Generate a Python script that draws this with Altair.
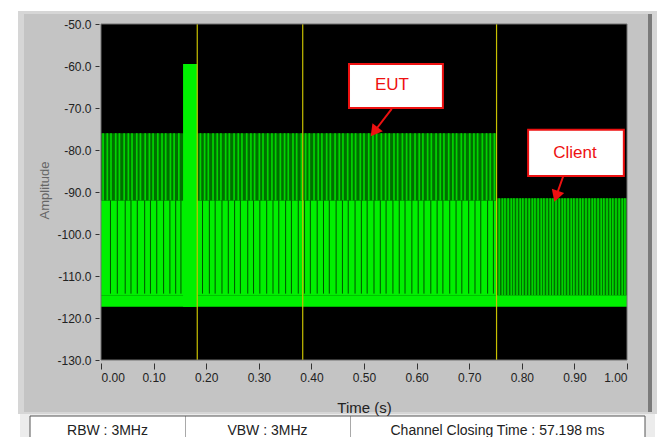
import altair as alt
import pandas as pd

# ---------------- data ----------------
x_ticks = [0.0, 0.1, 0.2, 0.3, 0.4, 0.5, 0.6, 0.7, 0.8, 0.9, 1.0]
y_ticks = [-130, -120, -110, -100, -90, -80, -70, -60, -50]

cursor_times = [0.183, 0.3835, 0.752]

noise_floor = -117.3
noise_top = -114.6
eut_low_top = -92.0
eut_high_top = -76.0
client_top = -91.5
eut_end = 0.752

burst_start = 0.156
burst_end = 0.183
burst_top = -59.5

eut_pulses = [0.004, 0.012, 0.019, 0.028, 0.035, 0.044, 0.052, 0.059, 0.068, 0.075,
              0.084, 0.092, 0.099, 0.108, 0.116, 0.123, 0.132, 0.139, 0.148, 0.189,
              0.197, 0.204, 0.213, 0.221, 0.228, 0.237, 0.244, 0.253, 0.261, 0.268,
              0.277, 0.285, 0.292, 0.301, 0.308, 0.317, 0.325, 0.332, 0.341, 0.349,
              0.356, 0.365, 0.372, 0.381, 0.389, 0.396, 0.405, 0.413, 0.420, 0.429,
              0.436, 0.445, 0.453, 0.460, 0.469, 0.477, 0.484, 0.493, 0.500, 0.509,
              0.517, 0.524, 0.533, 0.541, 0.548, 0.557, 0.564, 0.573, 0.581, 0.588,
              0.597, 0.605, 0.612, 0.621, 0.628, 0.637, 0.645, 0.652, 0.661, 0.669,
              0.676, 0.685, 0.692, 0.701, 0.709, 0.716, 0.725, 0.733, 0.740, 0.748]

eut_gaps = [0.018, 0.031, 0.046, 0.057, 0.069, 0.083, 0.094, 0.106, 0.119, 0.131,
            0.142, 0.152, 0.193, 0.206, 0.217, 0.230, 0.242, 0.254, 0.265, 0.279,
            0.290, 0.302, 0.315, 0.327, 0.338, 0.351, 0.362, 0.375, 0.387, 0.398,
            0.411, 0.423, 0.434, 0.447, 0.459, 0.470, 0.483, 0.495, 0.506, 0.519,
            0.531, 0.542, 0.555, 0.567, 0.578, 0.591, 0.603, 0.614, 0.627, 0.639,
            0.650, 0.663, 0.675, 0.686, 0.699, 0.711, 0.722, 0.735, 0.746]

client_pulses = [0.757, 0.763, 0.768, 0.774, 0.780, 0.785, 0.791, 0.797, 0.802, 0.808,
                 0.814, 0.820, 0.825, 0.831, 0.837, 0.842, 0.848, 0.854, 0.859, 0.865,
                 0.871, 0.877, 0.882, 0.888, 0.894, 0.899, 0.905, 0.911, 0.916, 0.922,
                 0.928, 0.934, 0.939, 0.945, 0.951, 0.956, 0.962, 0.968, 0.973, 0.979,
                 0.985, 0.991, 0.996]

annot_labels = ["EUT", "Client"]
annot_box_x0 = [0.4715, 0.812]
annot_box_x1 = [0.650, 0.994]
annot_box_y0 = [-59.5, -75.2]
annot_box_y1 = [-70.0, -86.2]
annot_text_x = [0.553, 0.901]
annot_text_y = [-64.6, -80.6]
arrow_x0 = [0.5527, 0.8789]
arrow_y0 = [-70.2, -86.2]
arrow_head_x = [0.5215, 0.8665]
arrow_head_y = [-75.3, -90.6]
arrow_angle = [217.7, 199.0]

status_labels = ["RBW : 3MHz", "VBW : 3MHz", "Channel Closing Time : 57.198 ms"]

# ---------------- styles ----------------
BRIGHT = "#00f000"
DARK = "#006e00"
LINE_BRIGHT = "#00d400"
GAP = "#005000"
YELLOW = "#c8c000"
RED = "#ee1111"
FONT = "Liberation Sans"

W, H = 526, 336

xs = alt.Scale(domain=[0, 1], nice=False, zero=False)
ys = alt.Scale(domain=[-130, -50], nice=False, zero=False)

one = pd.DataFrame({"d": [0]})


def deco_rect(x, x2, y, y2, **kw):
    return alt.Chart(one).mark_rect(**kw).encode(
        x=alt.value(x), x2=alt.value(x2), y=alt.value(y), y2=alt.value(y2))


# panel decoration (pixel positions relative to plot origin)
panel = [
    deco_rect(-83, 556, -13, 390, color="#d6d6d6"),
    deco_rect(-77, 547, -10, 388, color="#c4c4c4"),
    deco_rect(547, 551, -10, 388, color="#7a7a7a"),
    deco_rect(-81, 554, 390, 425, color="#ececec"),
    deco_rect(-71, 544, 392, 425, color="white", stroke="#555555", strokeWidth=1),
    deco_rect(84, 84.5, 392, 425, color="#555555"),
    deco_rect(249, 249.5, 392, 425, color="#555555"),
]
status_x = [6.5, 166.5, 396.5]
status = [
    alt.Chart(one).mark_text(font=FONT, fontSize=14, color="#222222").encode(
        x=alt.value(sx), y=alt.value(407), text=alt.value(lab))
    for sx, lab in zip(status_x, status_labels)
]

# plot area
plot_bg = alt.Chart(pd.DataFrame({"x0": [0.0], "x1": [1.0], "y0": [-130.0], "y1": [-50.0]})).mark_rect(
    color="black").encode(
    x=alt.X("x0:Q", scale=xs, axis=alt.Axis(
        values=x_ticks, format=".2f", title="Time (s)", tickSize=6, offset=3,
        labelPadding=3, titleFontSize=15, titleFontWeight="normal", titleColor="#222222",
        titleY=44, titleBaseline="middle", grid=False, domain=False, zindex=2,
        labelFont=FONT, labelFontSize=12, labelColor="#222222", tickColor="#333333",
        titleFont=FONT)),
    x2="x1:Q",
    y=alt.Y("y0:Q", scale=ys, axis=alt.Axis(
        values=y_ticks, title="Amplitude",
        labelExpr="(datum.value < 0 ? '-' : '') + format(abs(datum.value), '.1f')",
        tickSize=4, offset=2, labelPadding=4, grid=False, domain=False, zindex=2,
        labelFont=FONT, labelFontSize=12, labelColor="#222222", tickColor="#333333",
        titleFont=FONT, titleFontSize=13, titleFontWeight="normal", titleColor="#666666",
        titleX=-55, titleY=166, titleAngle=270, titleBaseline="middle", titleAlign="center")),
    y2="y1:Q",
)

bright_bands = pd.DataFrame({
    "x0": [0.0, 0.0, burst_start],
    "x1": [eut_end, 1.0, burst_end],
    "y0": [noise_top, noise_floor, noise_floor],
    "y1": [eut_low_top, noise_top, burst_top],
})
dark_bands = pd.DataFrame({
    "x0": [0.0, eut_end],
    "x1": [eut_end, 1.0],
    "y0": [eut_low_top, noise_top],
    "y1": [eut_high_top, client_top],
})


def bands(df, color):
    return alt.Chart(df).mark_rect(color=color).encode(
        x=alt.X("x0:Q", scale=xs), x2="x1:Q", y=alt.Y("y0:Q", scale=ys), y2="y1:Q")


def rules(times, y0, y1, color, width):
    df = pd.DataFrame({"t": times, "y0": [y0] * len(times), "y1": [y1] * len(times)})
    return alt.Chart(df).mark_rule(color=color, strokeWidth=width).encode(
        x=alt.X("t:Q", scale=xs), y=alt.Y("y0:Q", scale=ys), y2="y1:Q")


dark_layer = bands(dark_bands, DARK)
bright_layer = bands(bright_bands, BRIGHT)
eut_rules = rules(eut_pulses, eut_low_top, eut_high_top, LINE_BRIGHT, 1.7)
gap_rules = rules(eut_gaps, noise_top + 0.4, eut_low_top, GAP, 1.0)
client_rules = rules(client_pulses, noise_top, client_top, LINE_BRIGHT, 1.7)
cursor_rules = rules(cursor_times, -130, -50, YELLOW, 1.2)

frame = alt.Chart(pd.DataFrame({"x0": [0.0], "x1": [1.0], "y0": [-130.0], "y1": [-50.0]})).mark_rect(
    fillOpacity=0, stroke="#707070", strokeWidth=1).encode(
    x=alt.X("x0:Q", scale=xs), x2="x1:Q", y=alt.Y("y0:Q", scale=ys), y2="y1:Q")

ann = pd.DataFrame({
    "label": annot_labels,
    "bx0": annot_box_x0, "bx1": annot_box_x1, "by0": annot_box_y0, "by1": annot_box_y1,
    "tx": annot_text_x, "ty": annot_text_y,
    "ax0": arrow_x0, "ay0": arrow_y0, "hx": arrow_head_x, "hy": arrow_head_y,
    "angle": arrow_angle,
})
ann_boxes = alt.Chart(ann).mark_rect(fill="white", stroke=RED, strokeWidth=2).encode(
    x=alt.X("bx0:Q", scale=xs), x2="bx1:Q", y=alt.Y("by0:Q", scale=ys), y2="by1:Q")
ann_text = alt.Chart(ann).mark_text(font=FONT, fontSize=17, color=RED).encode(
    x=alt.X("tx:Q", scale=xs), y=alt.Y("ty:Q", scale=ys), text="label:N")
ann_lines = alt.Chart(ann).mark_rule(color=RED, strokeWidth=2).encode(
    x=alt.X("ax0:Q", scale=xs), y=alt.Y("ay0:Q", scale=ys), x2="hx:Q", y2="hy:Q")
ann_heads = alt.Chart(ann).mark_point(shape="triangle", filled=True, size=170, color=RED,
                                      opacity=1).encode(
    x=alt.X("hx:Q", scale=xs), y=alt.Y("hy:Q", scale=ys),
    angle=alt.Angle("angle:Q", scale=None))

chart = alt.layer(
    *panel, *status, plot_bg, dark_layer, bright_layer, eut_rules, gap_rules,
    client_rules, cursor_rules, frame, ann_boxes, ann_text, ann_lines, ann_heads,
).properties(
    width=W, height=H,
    padding={"left": 93, "top": 16, "right": 34, "bottom": 77},
    autosize=alt.AutoSizeParams(type="none"),
).configure(background="white").configure_view(stroke=None)

chart.save("out.html", embed_options={"renderer": "svg", "actions": False})
